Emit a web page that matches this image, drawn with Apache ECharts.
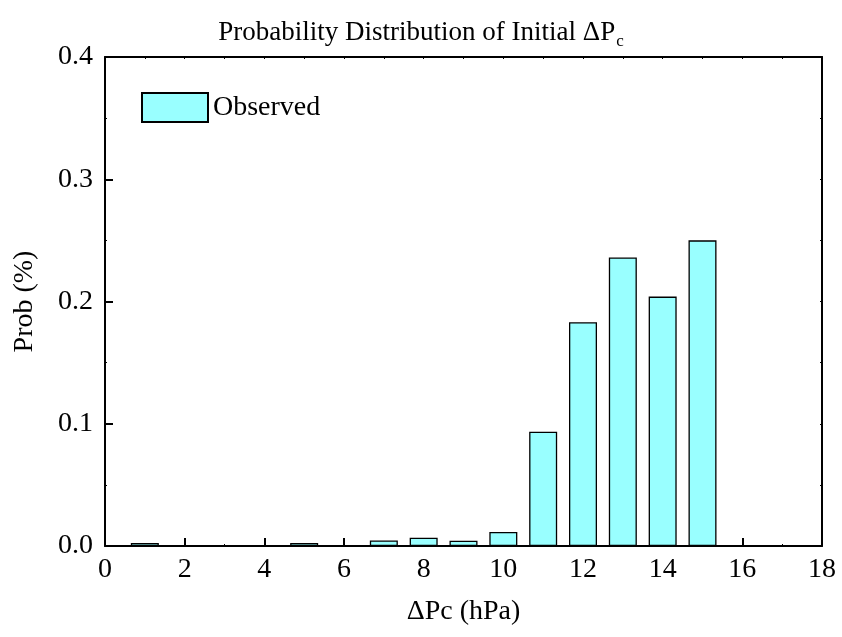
<!DOCTYPE html>
<html>
<head>
<meta charset="utf-8">
<script src="https://cdn.jsdelivr.net/npm/echarts@6/dist/echarts.min.js"></script>
<style>html,body{margin:0;padding:0;background:#fff}#c{width:842px;height:637px}</style>
</head>
<body>
<div id="c"></div>
<script>
var xValues = [1, 5, 7, 8, 9, 10, 11, 12, 13, 14, 15];
var probValues = [0.0025, 0.0025, 0.0045, 0.0068, 0.0043, 0.0115, 0.0935, 0.183, 0.236, 0.204, 0.25];
var xTicks = [0, 2, 4, 6, 8, 10, 12, 14, 16, 18];
var yTicks = ['0.0', '0.1', '0.2', '0.3', '0.4'];

var font = 'Liberation Serif';
var chart = echarts.init(document.getElementById('c'));
var axisLineStyle = {color: '#000', width: 2};
chart.setOption({
  animation: false,
  title: {
    text: '{m|Probability Distribution of Initial ΔP}{s|c}',
    left: 'center',
    top: 10,
    textStyle: {
      rich: {
        m: {fontFamily: font, fontSize: 27, color: '#000', fontWeight: 'normal'},
        s: {fontFamily: font, fontSize: 17, color: '#000', fontWeight: 'normal', verticalAlign: 'bottom', padding: [18, 0, 0, 1]}
      }
    }
  },
  legend: {
    left: 136, top: 87,
    itemWidth: 66, itemHeight: 29, itemGap: 6,
    icon: 'rect',
    textStyle: {fontFamily: font, fontSize: 28, color: '#000', padding: [0, 0, 0, 0]},
    data: ['Observed']
  },
  grid: {left: 105, right: 20, top: 57, bottom: 91, containLabel: false, outerBoundsMode: 'none'},
  xAxis: [{
    type: 'value', min: 0, max: 18, interval: 2,
    name: 'ΔPc (hPa)', nameLocation: 'middle', nameGap: 52,
    nameTextStyle: {fontFamily: font, fontSize: 28, color: '#000'},
    axisLine: {onZero: false, lineStyle: axisLineStyle},
    axisTick: {inside: true, length: 8, lineStyle: {color: '#000', width: 2}},
    minorTick: {show: true, splitNumber: 2, length: 2, lineStyle: {color: '#000'}},
    axisLabel: {fontFamily: font, fontSize: 28, color: '#000', margin: 10,
      formatter: function (v) { return xTicks.indexOf(v) >= 0 ? String(v) : ''; }},
    splitLine: {show: false}
  }, {
    type: 'value', min: 0, max: 18, interval: 1, position: 'top',
    axisLine: {onZero: false, lineStyle: axisLineStyle},
    axisTick: {inside: true, length: 2, lineStyle: {color: '#000'}},
    axisLabel: {show: false}, splitLine: {show: false}
  }],
  yAxis: [{
    type: 'value', min: 0, max: 0.4, interval: 0.1,
    name: 'Prob (%)', nameLocation: 'middle', nameGap: 66,
    nameTextStyle: {fontFamily: font, fontSize: 28, color: '#000'},
    axisLine: {onZero: false, lineStyle: axisLineStyle},
    axisTick: {inside: true, length: 8, lineStyle: {color: '#000', width: 2}},
    minorTick: {show: true, splitNumber: 2, length: 2, lineStyle: {color: '#000'}},
    axisLabel: {fontFamily: font, fontSize: 28, color: '#000', margin: 12,
      formatter: function (v) { return yTicks[Math.round(v * 10)]; }},
    splitLine: {show: false}
  }, {
    type: 'value', min: 0, max: 0.4, interval: 0.05, position: 'right',
    axisLine: {onZero: false, lineStyle: axisLineStyle},
    axisTick: {inside: true, length: 2, lineStyle: {color: '#000'}},
    axisLabel: {show: false}, splitLine: {show: false}
  }],
  series: [{
    name: 'Observed',
    type: 'bar',
    barWidth: 28,
    data: xValues.map(function (x, i) { return [x, probValues[i]]; }),
    itemStyle: {color: '#99FFFF', borderColor: '#000', borderWidth: 1.3},
    z: 1
  }]
});
</script>
</body>
</html>
